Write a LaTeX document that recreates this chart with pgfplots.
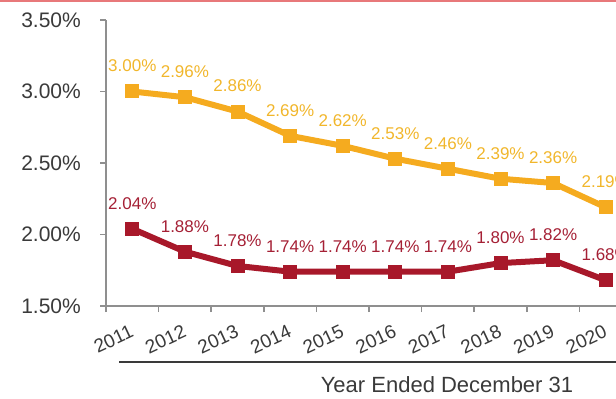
\documentclass[border=0pt]{standalone}
\usepackage{pgfplots}
\pgfplotsset{compat=1.18}
\usepackage{fontspec}
\setmainfont{Liberation Sans}
\definecolor{gold}{HTML}{F5AB1F}
\definecolor{goldtxt}{HTML}{F1B62B}
\definecolor{dred}{HTML}{A8182A}
\definecolor{dredtxt}{HTML}{A52035}
\definecolor{axgray}{HTML}{8F8F8F}
\definecolor{txtgray}{HTML}{3A3A3A}
\definecolor{topline}{HTML}{E8787A}
\begin{document}
\begin{tikzpicture}[x=1pt,y=1pt]
\path[use as bounding box] (0,0) rectangle (616,399);
\clip (0,0) rectangle (616,399);
\begin{axis}[
  at={(106pt,93pt)}, anchor=south west,
  scale only axis, width=526pt, height=286pt,
  xmin=2010.5, xmax=2020.5, ymin=1.5, ymax=3.5,
  axis x line=bottom, axis y line=left,
  axis line style={-, draw=axgray, line width=1.8pt},
  tick align=outside,
  major tick length=6pt,
  tick style={draw=axgray, line width=1.5pt},
  xtick={2010.5,2011.5,2012.5,2013.5,2014.5,2015.5,2016.5,2017.5,2018.5,2019.5,2020.5},
  xticklabels={},
  extra x ticks={2011,2012,2013,2014,2015,2016,2017,2018,2019,2020},
  extra x tick labels={2011,2012,2013,2014,2015,2016,2017,2018,2019,2020},
  extra x tick style={major tick length=0pt, tick style={draw=none},
    xticklabel style={yshift=-18pt, xshift=-3pt, rotate=25, anchor=north east, inner sep=0pt,
      font=\fontsize{19}{19}\selectfont, text=txtgray}},
  ytick={1.5,2,2.5,3,3.5},
  yticklabels={1.50\%,2.00\%,2.50\%,3.00\%,3.50\%},
  yticklabel style={anchor=east, inner sep=0pt, xshift=-19pt,
    font=\fontsize{21}{21}\selectfont, text=txtgray},
  clip=false,
  /pgf/number format/assume math mode=true,
  nodes near coords={\pgfmathprintnumber[fixed,fixed zerofill,precision=2]{\pgfplotspointmeta}\%},
  nodes near coords align={center},
  every node near coord/.append style={yshift=25.5pt, font=\fontsize{17}{17}\selectfont},
]
\addplot[color=gold, line width=6pt, mark=square*, mark size=6.5pt,
  mark options={solid, fill=gold, line width=0pt},
  every node near coord/.append style={text=goldtxt}]
  coordinates {(2011,3.00) (2012,2.96) (2013,2.86) (2014,2.69) (2015,2.62)
               (2016,2.53) (2017,2.46) (2018,2.39) (2019,2.36) (2020,2.19)};
\addplot[color=dred, line width=6pt, mark=square*, mark size=6.5pt,
  mark options={solid, fill=dred, line width=0pt},
  every node near coord/.append style={text=dredtxt}]
  coordinates {(2011,2.04) (2012,1.88) (2013,1.78) (2014,1.74) (2015,1.74)
               (2016,1.74) (2017,1.74) (2018,1.80) (2019,1.82) (2020,1.68)};
\end{axis}
\draw[color=txtgray, line width=1.6pt] (119,37) -- (640,37);
\node[font=\fontsize{22}{22}\selectfont, text=txtgray] at (447,14) {Year Ended December 31};
\draw[topline, line width=2.5pt] (0,398) -- (616,398);
\end{tikzpicture}
\end{document}
